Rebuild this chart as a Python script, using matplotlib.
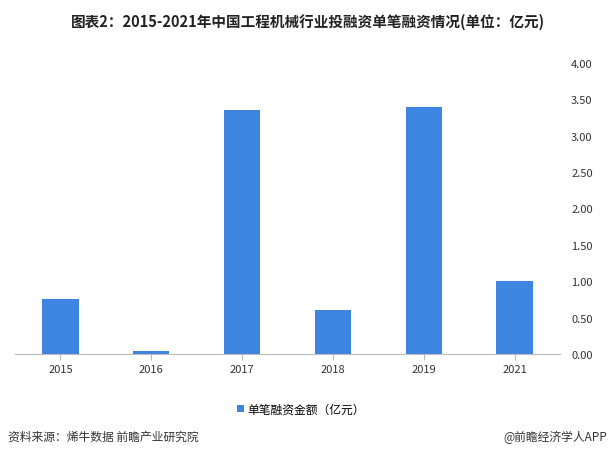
import matplotlib.pyplot as plt
plt.rcParams['font.family'] = ['Noto Sans CJK SC', 'DejaVu Sans']

years = ['2015', '2016', '2017', '2018', '2019', '2021']
values = [0.75, 0.04, 3.35, 0.60, 3.40, 1.00]
ticks = [0, 0.5, 1.0, 1.5, 2.0, 2.5, 3.0, 3.5, 4.0]

fig = plt.figure(figsize=(6.15, 4.56), dpi=100)
ax = fig.add_axes([15/615, 1-355/456, 545/615, (355-64)/456])
ax.bar(range(len(years)), values, width=0.4, color='#3d85e0', label='单笔融资金额（亿元）')
ax.set_xlim(-0.5, len(years)-0.5)
ax.set_ylim(0, 4)
ax.set_yticks(ticks)
ax.set_yticklabels([f'{t:.2f}' for t in ticks], fontsize=8, color='#333333')
ax.yaxis.tick_right()
ax.set_xticks(range(len(years)))
ax.set_xticklabels(years, fontsize=8, color='#333333')
ax.tick_params(axis='y', length=0, pad=8)
ax.tick_params(axis='x', length=4, color='#bbbbbb')
for s in ['top', 'left', 'right']:
    ax.spines[s].set_visible(False)
ax.spines['bottom'].set_color('#bbbbbb')
ax.legend(loc='upper center', bbox_to_anchor=(0.525, -0.13), frameon=False, fontsize=8.5,
          handlelength=0.6, handleheight=0.6, handletextpad=0.3)
fig.text(0.5, 1-22/456, '图表2：2015-2021年中国工程机械行业投融资单笔融资情况(单位：亿元)',
         ha='center', va='center', fontsize=10.5, fontweight='bold', color='#222222')
fig.text(8/615, 1-437/456, '资料来源：烯牛数据 前瞻产业研究院', ha='left', va='center', fontsize=8.5, color='#333333')
fig.text(607/615, 1-437/456, '@前瞻经济学人APP', ha='right', va='center', fontsize=8.5, color='#333333')
fig.savefig('out.png', dpi=100)
